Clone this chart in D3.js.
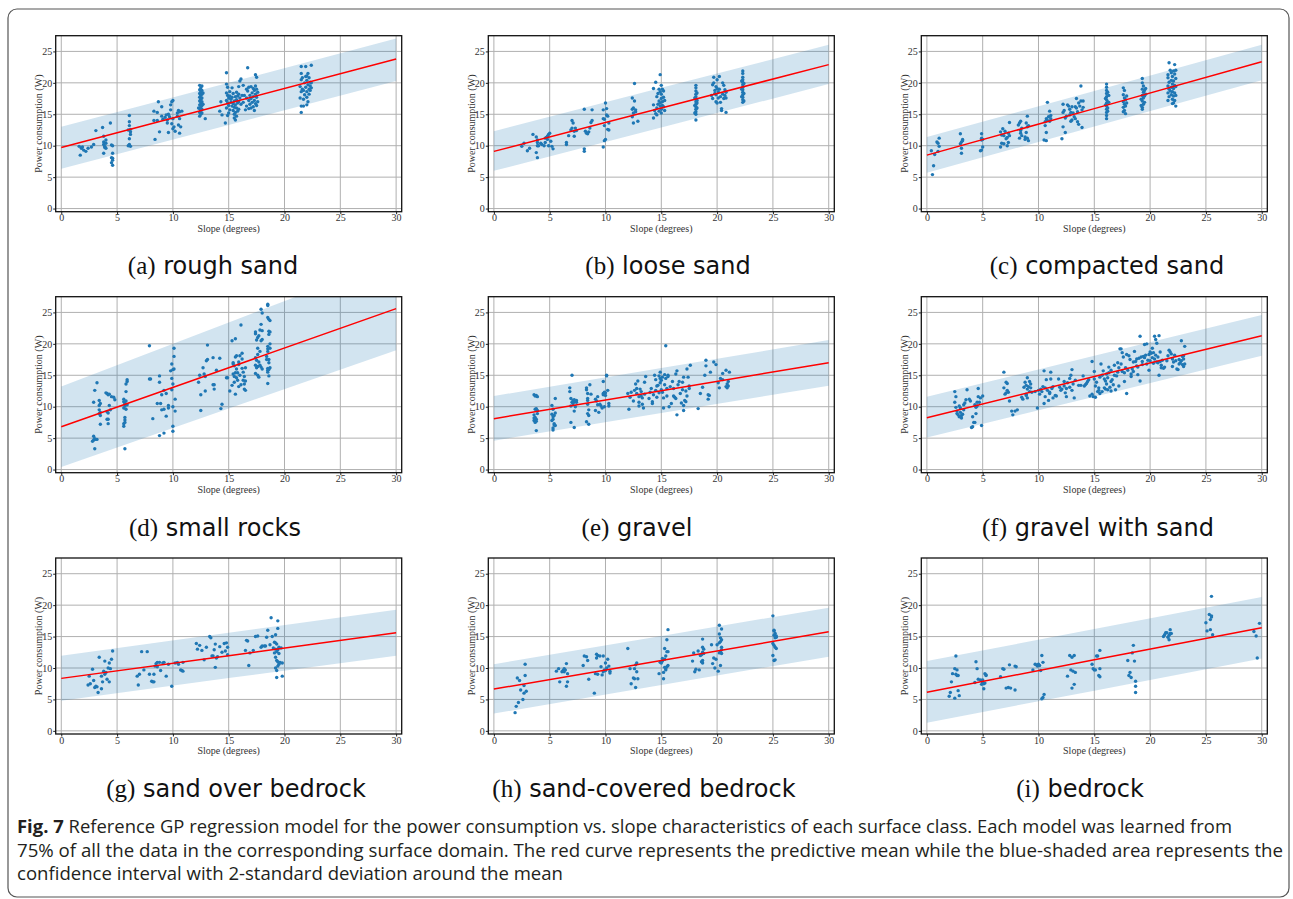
<!DOCTYPE html>
<html>
<head>
<meta charset="utf-8">
<script src="https://cdn.jsdelivr.net/npm/d3@7"></script>
<style>
  body { margin: 0; background: #fff; }
  svg { display: block; }
</style>
</head>
<body>
<svg id="fig" width="1293" height="899"></svg>
<script>
// ---- Axis ticks -------------------------------------------------------
const X_TICKS = [0, 5, 10, 15, 20, 25, 30];
const Y_TICKS = [0, 5, 10, 15, 20, 25];
const X_DOMAIN = [-0.5, 30.5];
const Y_DOMAIN = [-0.5, 27.5];

// Slope positions at which the GP mean and 2-sigma band are given
const gpSlope = [0, 15, 30];

// ---- (a) rough sand ---------------------------------------------------
const roughSandMean = [9.7, 16.75, 23.8];
const roughSandUpper = [13.0, 20.0, 27.05];
const roughSandLower = [6.35, 13.3, 20.3];
const roughSand = [
  [1.6,9.9],[1.7,8.5],[1.8,9.6],[1.9,9.8],[2.0,9.3],[2.2,9.1],[2.4,9.6],[2.7,9.8],[2.9,10.2],[3.1,12.4],
  [3.7,12.9],[3.8,11.5],[3.8,10.6],[3.8,10.2],[3.9,9.9],[3.9,9.7],[4.0,10.9],[4.0,10.4],[3.8,8.8],[4.0,9.6],
  [4.4,13.6],[4.5,10.1],[4.6,10.0],[4.5,8.1],[4.6,8.0],[4.6,7.7],[4.5,7.3],[4.6,6.9],[4.6,8.8],
  [6.1,14.8],[6.1,13.8],[6.1,13.2],[6.0,12.5],[6.2,12.2],[6.2,11.8],[6.1,11.1],[6.0,10.0],[6.1,10.2],[6.2,9.9],[6.2,12.6],
  [8.3,15.5],[8.3,14.0],[8.4,11.0],[8.6,15.3],[8.7,17.0],[8.6,14.0],[8.8,12.2],[9.0,16.2],[9.0,14.7],[9.1,14.2],
  [9.3,14.5],[9.4,14.9],[9.5,14.1],[9.5,13.6],[9.6,15.0],[9.7,14.6],[9.6,12.1],[9.8,16.5],[9.9,17.0],[10.0,17.2],
  [9.9,13.5],[10.0,12.7],[10.1,13.0],[10.2,12.3],[9.8,15.7],[10.0,14.3],
  [10.5,15.6],[10.6,15.4],[10.4,14.7],[10.6,14.3],[10.5,13.3],[10.7,13.0],[10.6,12.0],[10.8,15.5],[10.4,15.2],
  [12.4,19.6],[12.6,19.5],[12.5,19.2],[12.4,18.9],[12.6,18.8],[12.5,18.6],[12.4,18.3],[12.6,18.2],[12.5,18.0],
  [12.4,17.7],[12.6,17.6],[12.5,17.4],[12.4,17.1],[12.6,17.0],[12.5,16.8],[12.4,16.5],[12.6,16.4],[12.5,16.2],
  [12.4,15.9],[12.6,15.8],[12.5,15.6],[12.4,15.3],[12.6,15.2],[12.5,15.0],[12.4,14.7],[12.7,16.6],[12.3,16.0],[12.7,18.4],
  [12.9,14.3],[14.2,15.5],[14.4,14.9],[14.3,17.0],[14.8,21.6],[14.7,13.6],
  [14.8,19.8],[14.9,19.3],[14.8,18.4],[14.9,18.0],[15.0,17.6],[14.8,17.2],[14.9,16.8],[15.0,16.4],[14.8,16.0],
  [15.1,17.9],[15.1,18.6],[15.2,17.4],[15.2,16.9],[15.3,16.3],[15.3,19.2],[15.3,17.7],[15.4,18.3],[15.4,16.7],
  [15.4,15.6],[15.5,17.1],[15.5,16.1],[15.5,15.0],[15.5,14.4],[15.6,17.8],[15.6,16.5],[15.6,15.3],[15.6,14.1],
  [15.7,18.5],[15.7,17.3],[15.7,16.0],[15.7,14.7],[15.8,17.9],[15.8,16.8],[15.8,15.5],[15.9,19.4],[15.9,18.2],
  [15.9,17.0],[15.9,15.8],[16.0,20.3],[16.0,17.6],[16.1,20.6],[16.1,16.6],[16.3,19.6],[16.2,18.0],[15.1,15.7],
  [15.0,15.2],[14.9,14.8],[16.3,16.9],
  [16.6,17.6],[16.6,16.3],[16.7,22.4],[16.7,18.7],[16.8,19.3],[16.8,17.2],[16.8,15.9],[16.9,18.0],[16.9,16.6],
  [17.0,19.4],[17.0,17.5],[17.0,16.0],[17.1,18.4],[17.1,16.9],[17.2,19.1],[17.2,17.8],[17.2,16.2],[17.3,18.8],
  [17.3,17.2],[17.3,15.6],[17.4,21.3],[17.4,19.5],[17.4,18.2],[17.4,16.7],[17.5,20.9],[17.5,19.0],[17.5,17.7],
  [17.5,16.4],[17.6,18.5],[17.6,17.0],[16.6,19.0],[16.5,15.7],[16.4,18.0],
  [21.5,15.3],[21.5,16.3],[21.4,17.6],[21.5,18.6],[21.4,19.4],[21.5,20.5],[21.5,21.5],[21.5,22.6],[21.6,19.0],
  [21.7,17.4],[21.7,16.3],[21.8,20.0],[21.8,18.1],[21.9,22.6],[21.9,21.0],[21.9,19.3],[22.0,17.7],[22.0,16.5],
  [22.0,20.4],[22.0,18.6],[22.1,21.5],[22.1,19.7],[22.1,17.0],[22.2,20.8],[22.2,19.0],[22.2,18.2],[22.3,20.1],
  [22.3,19.5],[22.3,18.8],[22.4,22.8],[22.4,20.0],[22.4,19.2],[21.6,20.8],[21.7,18.8],[22.0,21.1]
];

// ---- (b) loose sand ---------------------------------------------------
const looseSandMean = [9.1, 16.0, 22.9];
const looseSandUpper = [12.3, 19.2, 26.05];
const looseSandLower = [6.0, 12.9, 19.8];
const looseSand = [
  [2.5,9.9],[2.7,10.4],[3.0,9.2],[3.2,9.6],
  [3.5,11.8],[3.8,11.4],[3.9,10.9],[3.9,10.5],[3.9,10.0],[3.8,8.9],[3.9,8.1],[4.0,10.0],
  [4.2,10.4],[4.3,10.2],[4.5,10.0],[4.6,10.5],[4.7,11.3],[4.8,11.5],[4.9,11.8],[5.0,12.0],[4.8,11.0],[4.9,10.0],
  [5.1,10.7],[5.2,9.9],[5.3,9.5],[4.6,11.2],
  [6.5,10.5],[6.5,10.2],[6.7,11.6],[7.0,12.8],[7.0,14.0],[7.1,13.6],[7.2,12.3],[7.2,11.5],[7.3,12.8],[7.4,12.4],[6.9,12.5],
  [8.1,15.8],[8.1,9.5],[8.1,9.1],[8.2,12.3],[8.3,12.0],[8.4,11.9],[8.5,12.2],[8.6,12.8],[8.7,13.7],[8.8,14.0],[8.8,15.7],
  [9.8,15.7],[9.8,14.3],[9.8,9.8],[9.9,14.2],[9.9,10.8],[10.0,16.8],[10.0,11.0],[10.1,15.9],[10.1,14.9],[10.2,14.7],
  [10.2,12.6],[10.3,12.5],[10.3,13.6],[9.9,13.2],
  [12.4,17.6],[12.5,16.0],[12.4,15.8],[12.4,14.6],[12.5,13.6],[12.6,17.1],[12.6,19.9],[12.7,15.7],[12.7,15.4],[12.9,13.9],[12.5,15.2],
  [14.3,19.1],[14.5,20.1],[14.3,16.5],[14.4,15.6],[14.3,14.4],[14.5,15.1],[14.6,16.0],[14.6,17.8],[14.7,18.3],
  [14.8,19.0],[14.8,17.1],[14.8,15.5],[14.9,21.3],[14.9,18.6],[14.9,16.8],[14.9,16.3],[15.0,19.6],[15.0,18.2],
  [15.0,17.5],[15.0,15.8],[15.0,15.2],[15.1,19.0],[15.1,17.0],[15.1,16.4],[15.2,18.7],[15.2,17.7],[15.2,16.2],
  [15.3,17.2],[15.3,15.6],[14.7,16.6],[14.6,14.9],
  [18.1,19.6],[18.1,19.2],[18.1,18.7],[18.1,18.2],[18.1,17.8],[18.1,17.4],[18.1,17.0],[18.1,16.6],[18.1,16.2],
  [18.1,15.8],[18.1,15.4],[18.1,15.0],[18.1,14.1],[18.2,17.2],[18.2,16.8],[18.2,16.0],[18.0,16.4],[18.0,17.6],
  [18.2,18.4],[18.0,15.2],
  [19.5,18.0],[19.6,17.5],[19.6,19.7],[19.7,20.0],[19.7,20.9],[19.8,18.8],[19.8,18.3],[19.9,17.0],[19.9,19.4],
  [20.0,16.8],[20.0,20.5],[20.1,18.6],[20.1,17.6],[20.2,21.0],[20.2,19.0],[20.3,17.8],[20.3,16.9],[20.4,15.9],
  [20.4,15.6],[20.5,18.2],[20.5,20.0],[20.6,19.6],[20.6,17.5],[20.7,18.9],[20.7,18.0],[20.8,15.3],[20.8,17.6],
  [20.8,18.5],[20.0,19.1],[19.9,18.1],
  [22.3,21.9],[22.3,21.5],[22.3,20.9],[22.3,20.5],[22.3,20.1],[22.3,19.7],[22.3,19.3],[22.3,18.9],[22.3,18.5],
  [22.3,18.1],[22.3,17.7],[22.3,17.3],[22.3,16.9],[22.4,19.9],[22.4,18.3],[22.2,17.8],[22.2,19.0],[22.4,17.1],[22.2,20.3]
];

// ---- (c) compacted sand -----------------------------------------------
const compactedSandMean = [8.5, 15.9, 23.35];
const compactedSandUpper = [11.4, 18.7, 26.05];
const compactedSandLower = [5.7, 13.05, 20.4];
const compactedSand = [
  [0.4,9.2],[0.5,5.4],[0.6,6.8],[0.7,8.6],[0.9,10.6],[1.0,9.1],[1.0,10.4],[1.1,11.2],[1.1,9.9],
  [3.0,11.9],[3.0,10.3],[3.1,10.6],[3.1,9.6],[3.1,8.8],[3.2,11.0],[3.2,10.8],
  [4.8,9.2],[4.9,11.9],[4.9,11.2],[4.9,10.9],[5.0,9.8],[4.9,9.3],[5.0,11.0],
  [6.6,12.2],[6.6,9.8],[6.7,11.7],[6.7,10.4],[6.8,12.7],[6.9,10.3],[6.9,11.6],[7.0,12.3],[7.1,11.1],[7.2,10.0],
  [7.2,11.3],[7.3,12.0],[7.3,10.5],[7.4,11.6],[7.4,13.7],
  [8.2,13.3],[8.3,13.6],[8.4,12.4],[8.3,11.2],[8.4,12.0],[8.5,11.6],[8.4,13.9],[8.8,11.0],[8.8,11.4],[8.9,13.6],
  [8.9,12.1],[9.0,14.7],[9.0,13.0],[9.1,10.8],[9.1,13.2],[9.0,11.2],[8.5,12.8],
  [10.5,10.9],[10.6,13.2],[10.6,13.8],[10.7,10.8],[10.7,14.3],[10.7,12.1],[10.8,16.9],[10.8,14.0],[10.9,14.6],
  [11.0,13.9],[11.0,15.5],[11.1,14.8],[11.1,14.3],
  [12.1,11.1],[12.2,13.0],[12.2,15.3],[12.2,16.6],[12.3,15.6],[12.4,12.1],[12.4,14.4],[12.5,14.7],[12.6,16.5],
  [12.7,16.3],[12.8,15.8],[12.8,14.9],[12.9,13.9],[12.9,15.3],[13.0,16.2],[13.0,14.1],[13.1,15.2],[13.2,14.6],
  [13.3,16.2],[13.3,14.3],[13.4,17.5],[13.4,16.0],[13.5,13.8],[13.5,15.4],[13.6,16.8],[13.6,13.4],[13.7,16.3],
  [13.8,19.5],[13.8,17.1],[13.9,12.9],[13.9,15.7],[14.0,17.1],[14.0,16.1],
  [16.1,19.8],[16.1,19.3],[16.1,18.8],[16.1,18.3],[16.1,17.8],[16.1,17.3],[16.1,16.8],[16.1,16.3],[16.1,15.8],
  [16.1,15.3],[16.1,14.8],[16.1,14.3],[16.2,18.5],[16.2,17.0],[16.2,16.0],[16.2,15.5],[16.0,17.5],[16.0,16.5],
  [16.3,16.9],[16.3,18.0],
  [17.6,19.2],[17.7,18.8],[17.6,18.1],[17.7,17.6],[17.6,17.0],[17.7,16.6],[17.6,16.1],[17.7,15.6],[17.8,15.1],
  [17.8,17.3],[17.8,16.3],[17.9,17.9],[17.9,16.8],[17.6,15.4],
  [19.3,20.7],[19.3,20.0],[19.4,19.5],[19.3,19.0],[19.4,18.5],[19.3,18.0],[19.4,17.6],[19.3,17.1],[19.4,16.6],
  [19.3,16.1],[19.3,15.8],[19.5,18.8],[19.5,17.9],[19.5,16.9],[19.6,19.1],[19.6,18.2],[19.2,17.4],[19.2,16.4],
  [21.7,23.2],[21.8,22.0],[21.6,21.3],[21.6,20.8],[21.7,20.1],[21.6,19.5],[21.7,19.0],[21.6,18.4],[21.7,17.8],
  [21.6,17.2],[21.9,20.4],[21.9,19.3],[21.9,18.1],[22.0,21.0],[22.0,19.8],[22.0,18.6],[22.0,17.4],[22.1,20.3],
  [22.1,19.1],[22.1,17.9],[22.1,16.8],[22.2,22.9],[22.2,21.4],[22.2,19.6],[22.2,18.4],[22.2,17.2],[22.3,22.0],
  [22.3,20.7],[22.3,19.4],[22.3,18.0],[22.3,16.3],[21.8,18.7],[22.0,16.7],[21.9,21.6],[22.1,21.9]
];

// ---- (d) small rocks --------------------------------------------------
const smallRocksMean = [6.8, 16.2, 25.6];
const smallRocksUpper = [13.2, 23.4, 33.6];
const smallRocksLower = [0.4, 9.7, 19.0];
const smallRocks = [
  [2.8,4.5],[2.9,4.7],[2.9,5.3],[3.0,4.9],[3.0,3.3],[3.1,4.8],[3.2,4.8],[2.9,10.7],[3.0,12.6],[3.2,13.8],
  [3.4,11.0],[3.4,10.2],[3.4,9.5],[3.5,9.1],[3.5,8.6],[3.5,7.2],[3.4,8.9],[3.5,10.5],
  [4.0,12.2],[4.1,12.1],[4.2,11.9],[4.3,12.0],[4.1,9.2],[4.2,8.0],[4.2,7.3],[4.3,10.2],[4.2,9.0],[4.4,9.5],[4.1,8.0],
  [4.5,11.6],[4.7,11.5],[4.8,11.1],
  [5.6,11.2],[5.6,10.8],[5.7,10.5],[5.7,10.1],[5.6,9.8],[5.7,8.3],[5.7,7.9],[5.6,7.3],[5.6,6.9],[5.7,3.3],
  [5.8,12.4],[5.8,13.6],[5.9,14.0],[5.9,14.3],[5.8,9.6],[5.8,10.9],[5.7,7.5],[5.9,10.3],
  [7.9,19.7],[7.9,14.4],[8.0,14.4],[8.2,8.1],
  [8.6,10.5],[8.8,14.9],[8.8,13.9],[8.8,5.4],[8.9,10.5],[9.0,11.9],[9.0,9.5],[9.2,9.6],[9.2,5.8],[9.4,8.5],[9.4,12.1],[9.2,12.6],
  [9.6,10.2],[9.6,9.8],[9.8,15.7],[9.9,16.8],[9.9,14.5],[9.9,12.7],[10.0,13.6],[10.0,6.9],[10.0,6.1],[10.1,19.3],
  [10.1,18.0],[10.1,16.0],[10.0,15.9],[10.2,11.2],[10.2,9.3],[10.0,10.0],
  [12.3,13.9],[12.4,15.0],[12.5,11.9],[12.5,9.4],[12.7,16.2],[12.8,15.2],[12.9,14.8],[12.9,12.5],[13.0,17.3],[13.1,19.8],[13.1,17.5],
  [13.6,17.8],[13.6,13.5],[13.7,12.8],[13.7,13.5],[13.9,15.8],[14.2,17.7],[14.3,9.7],[14.4,10.4],
  [14.8,14.6],[14.9,14.6],[15.1,12.5],[15.3,13.4],[15.3,20.5],[15.4,17.0],[15.4,16.8],[15.4,15.2],[15.5,14.8],
  [15.5,13.9],[15.6,20.8],[15.6,17.9],[15.6,12.0],[15.5,16.5],[15.6,15.4],
  [15.7,18.1],[15.7,16.0],[15.7,14.6],[15.8,15.4],[15.8,14.2],[15.9,16.7],[15.9,17.1],[15.9,13.2],[16.0,18.1],
  [16.1,23.0],[16.0,15.0],[16.1,13.5],[16.2,18.5],[16.2,17.6],[16.2,16.1],[16.3,15.5],[16.3,14.2],[16.4,14.8],
  [16.4,13.6],[16.4,12.8],[16.5,14.1],[16.5,12.6],[16.5,16.2],
  [17.4,21.9],[17.4,21.6],[17.4,17.8],[17.4,16.6],[17.4,15.3],[17.5,20.6],[17.5,16.2],[17.6,19.3],[17.6,18.3],
  [17.6,16.4],[17.6,15.0],[17.7,21.3],[17.7,17.1],[17.7,14.7],[17.8,22.2],[17.8,16.6],[17.9,25.5],[17.9,23.1],
  [17.9,20.5],[17.9,16.3],[18.0,24.9],[18.0,22.1],[18.0,20.7],[18.0,16.0],[17.5,17.4],[17.8,18.8],[17.6,21.0],
  [18.5,26.3],[18.5,26.1],[18.5,24.2],[18.6,23.9],[18.6,22.0],[18.6,21.5],[18.5,19.6],[18.5,19.2],[18.5,18.8],
  [18.6,17.5],[18.6,17.0],[18.5,16.1],[18.5,15.8],[18.5,15.5],[18.6,14.9],[18.5,13.7],[18.7,23.7],[18.7,21.9],
  [18.7,19.3],[18.7,16.2],[18.6,15.9],[18.4,17.5],[18.4,18.0],[18.7,20.0]
];

// ---- (e) gravel -------------------------------------------------------
const gravelMean = [8.1, 12.55, 17.0];
const gravelUpper = [11.7, 16.15, 20.6];
const gravelLower = [4.6, 9.0, 13.35];
const gravel = [
  [3.6,11.9],[3.7,11.7],[3.8,11.8],[3.9,11.6],[3.7,9.6],[3.8,9.7],[3.6,8.7],[3.7,8.3],[3.8,8.0],[3.6,7.8],
  [3.7,7.5],[3.8,6.2],[3.9,8.9],[3.9,9.4],[3.6,8.2],[3.8,7.7],
  [5.2,10.2],[5.3,9.6],[5.2,8.8],[5.3,8.4],[5.3,8.0],[5.2,7.8],[5.4,7.3],[5.3,6.6],[5.3,6.3],[5.5,11.3],[5.5,9.0],
  [5.5,7.0],[5.4,8.6],[5.4,7.1],
  [6.8,13.0],[6.8,12.4],[6.9,11.3],[6.9,10.1],[7.0,15.0],[7.0,10.7],[7.1,11.0],[7.1,10.5],[7.2,9.3],[7.2,11.1],
  [7.3,10.8],[7.3,10.0],[7.4,10.7],[6.9,7.5],[7.2,6.7],[7.4,11.0],
  [8.3,13.0],[8.3,12.7],[8.4,12.1],[8.4,11.3],[8.4,11.0],[8.4,10.4],[8.5,9.5],[8.4,8.9],[8.5,8.6],[8.3,7.6],
  [8.5,7.2],[8.6,13.5],[8.7,12.0],
  [9.1,11.2],[9.1,9.4],[9.2,10.9],[9.3,10.3],[9.3,11.6],[9.4,9.1],[9.5,10.4],[9.6,10.1],[9.7,9.8],[9.8,11.9],
  [9.8,12.1],[9.8,14.0],[9.9,12.3],[9.9,10.0],[10.0,11.8],[10.1,15.0],[10.1,14.9],[10.2,12.6],[10.3,10.5],
  [10.3,10.1],[10.0,12.2],
  [12.0,12.1],[12.1,9.6],[12.2,11.5],[12.3,12.3],[12.5,10.9],[12.6,12.6],[12.7,13.6],[12.8,12.1],[12.9,14.1],
  [13.0,11.6],[13.0,10.7],[13.0,10.1],[13.1,12.8],[13.2,11.7],[13.2,12.4],[13.3,11.4],[13.3,10.4],[13.4,9.8],
  [13.5,13.9],[13.6,14.8],[13.5,12.0],[12.8,12.9],
  [13.9,11.3],[14.0,12.3],[14.1,12.9],[14.2,10.8],[14.2,10.5],[14.3,11.9],[14.4,15.0],[14.5,14.3],[14.5,12.6],
  [14.6,11.5],[14.7,13.4],[14.8,14.9],[14.8,12.2],[14.9,13.8],[14.9,15.5],[15.0,14.2],[15.0,12.7],[15.1,12.3],
  [15.2,9.8],[15.2,11.4],[15.3,15.1],[15.3,13.5],[15.4,19.7],[15.4,14.5],[15.5,12.9],[15.6,15.0],[15.6,14.8],
  [15.7,10.0],[15.8,13.2],[15.9,10.5],[16.0,14.0],[16.1,11.7],[16.1,12.9],[16.2,11.5],[16.3,15.2],[16.3,11.3],
  [16.4,8.7],[16.4,15.7],[16.5,13.5],[15.1,14.7],[14.9,14.5],[15.5,11.7],[14.6,13.3],
  [16.6,14.0],[16.7,12.1],[16.8,10.6],[16.9,12.7],[17.0,10.2],[17.0,9.4],[17.0,14.7],[17.1,11.0],[17.2,12.5],
  [17.2,10.8],[17.3,16.0],[17.4,14.7],[17.5,12.9],[17.5,13.3],[17.6,16.6],[17.3,11.7],[16.9,13.9],
  [18.3,9.7],[18.5,12.1],[18.7,13.1],[18.9,15.0],[19.0,17.4],[19.0,16.5],[19.2,11.9],[19.2,11.2],[19.3,11.8],
  [19.4,15.5],[19.7,17.1],[19.9,16.7],[20.1,13.8],[20.2,13.0],[20.3,14.5],[20.5,15.3],[20.8,15.8],[20.8,13.2],
  [20.9,13.6],[20.9,13.0],[21.0,14.0],[21.1,15.5],[20.5,14.3],[21.0,13.3]
];

// ---- (f) gravel with sand ---------------------------------------------
const gravelSandMean = [8.25, 14.8, 21.3];
const gravelSandUpper = [11.6, 18.1, 24.6];
const gravelSandLower = [5.1, 11.6, 18.1];
const gravelSand = [
  [2.5,12.4],[2.6,11.6],[2.5,10.7],[2.6,9.9],[2.7,9.3],[2.7,8.9],[2.8,8.7],[2.9,8.4],[3.0,9.8],[3.0,9.1],
  [3.1,8.6],[3.1,8.2],[3.2,8.8],[3.3,9.5],[3.3,10.3],[3.4,10.6],[3.5,11.1],[3.6,12.7],[2.9,10.1],
  [3.8,11.2],[3.9,10.9],[4.0,6.7],[4.1,6.8],[4.1,8.4],[4.2,7.5],[4.3,10.3],[4.4,9.9],[4.4,8.9],[4.5,10.7],
  [4.6,11.6],[4.6,12.9],[4.7,10.7],[4.8,11.4],[4.9,7.0],[5.0,11.7],[4.5,10.1],[4.3,7.5],
  [6.9,15.5],[6.9,13.0],[7.0,12.0],[7.1,13.9],[7.2,13.7],[7.2,12.6],[7.3,12.3],[7.4,10.9],[7.6,9.3],[7.7,8.7],
  [7.9,9.3],[8.1,9.5],[7.1,12.2],
  [8.5,11.5],[8.6,11.2],[8.7,13.1],[8.8,13.9],[8.9,12.0],[8.9,13.4],[9.0,14.6],[9.0,11.4],[9.0,12.8],[9.1,13.2],
  [9.2,14.0],[9.2,12.4],[9.3,13.0],[9.4,12.3],[9.3,13.6],[8.9,11.8],
  [9.7,12.4],[9.9,9.8],[10.0,12.6],[10.1,12.0],[10.2,12.8],[10.3,12.4],[10.4,13.2],[10.5,15.7],[10.5,10.5],
  [10.6,11.6],[10.7,14.3],[10.8,12.6],[10.9,11.0],[11.0,12.1],[11.0,12.3],[11.1,15.5],[11.1,14.4],[11.2,12.9],
  [11.3,11.4],[10.6,13.0],[11.3,13.2],
  [11.5,11.8],[11.6,11.7],[11.8,14.4],[11.9,13.1],[12.0,12.6],[12.1,12.8],[12.3,14.0],[12.3,13.3],[12.4,12.2],
  [12.5,11.6],[12.6,13.8],[12.8,14.5],[12.9,15.0],[13.0,15.9],[13.0,12.6],[13.1,13.6],[13.2,11.4],[13.3,14.2],
  [12.5,12.9],[12.8,13.1],
  [13.6,13.4],[13.8,13.4],[14.0,14.9],[14.1,13.3],[14.2,13.5],[14.4,14.0],[14.5,14.3],[14.6,11.7],[14.8,17.2],
  [14.8,12.0],[14.9,11.6],[15.0,15.6],[15.0,14.4],[15.1,11.5],[15.1,13.3],[15.2,13.9],[15.3,12.4],[15.4,12.6],
  [15.5,14.7],[15.5,12.1],[14.3,13.7],[15.4,13.0],
  [15.6,16.8],[15.7,15.0],[15.7,12.4],[15.8,15.7],[15.9,14.4],[16.0,12.8],[16.0,14.1],[16.1,13.6],[16.2,12.7],
  [16.2,14.6],[16.3,16.3],[16.3,15.4],[16.4,13.1],[16.5,12.5],[16.5,15.8],[16.6,14.3],[16.7,13.5],[16.8,15.0],
  [16.8,16.6],[16.9,12.7],[17.0,14.9],[16.1,15.2],[16.5,14.0],[15.9,13.0],
  [17.1,17.0],[17.1,15.5],[17.2,16.2],[17.2,13.3],[17.3,19.2],[17.4,19.2],[17.4,16.8],[17.5,18.6],[17.5,15.6],
  [17.6,17.9],[17.7,15.4],[17.7,14.0],[17.8,16.2],[17.9,12.1],[18.0,15.8],[18.1,18.1],[18.2,17.5],[18.3,15.2],
  [18.4,16.0],[18.5,15.6],[18.5,17.1],[17.9,18.3],[18.3,14.8],
  [18.6,18.8],[18.7,17.2],[18.8,17.6],[18.8,16.5],[18.9,15.1],[19.0,17.7],[19.1,21.2],[19.1,14.1],[19.2,17.9],
  [19.3,16.7],[19.4,18.0],[19.5,17.8],[19.5,19.9],[19.6,18.2],[19.7,20.0],[19.7,16.8],[19.8,17.4],[19.9,18.3],
  [19.9,15.8],[20.0,17.3],[20.0,18.7],[19.3,17.2],[18.9,16.3],
  [20.1,18.5],[20.2,17.8],[20.2,19.3],[20.3,18.6],[20.4,21.2],[20.4,17.6],[20.5,20.7],[20.5,18.2],[20.6,20.1],
  [20.6,17.1],[20.7,17.9],[20.8,21.3],[20.8,15.0],[20.9,18.7],[20.9,17.2],[21.0,16.6],[21.0,16.2],[21.1,17.4],
  [21.2,16.1],[21.3,16.3],[20.3,16.9],[20.7,17.0],
  [21.5,17.3],[21.6,18.1],[21.7,19.0],[21.8,18.7],[21.9,18.4],[22.0,17.6],[22.0,16.4],[22.1,17.1],[22.3,17.3],
  [22.4,16.0],[22.5,15.9],[22.6,17.5],[22.7,17.0],[22.8,20.5],[22.8,17.3],[22.9,18.0],[22.9,16.7],[23.0,16.4],
  [23.0,17.6],[23.1,19.6],[23.1,16.8],[23.0,18.1],[22.2,18.2],[22.6,16.8]
];

// ---- (g) sand over bedrock --------------------------------------------
const sandOverBedrockMean = [8.35, 11.95, 15.6];
const sandOverBedrockUpper = [11.95, 15.6, 19.25];
const sandOverBedrockLower = [4.8, 8.4, 11.95];
const sandOverBedrock = [
  [2.4,7.3],[2.5,8.7],[2.6,7.5],[2.8,9.8],[2.9,8.0],[3.0,6.9],[3.1,7.1],[3.2,7.0],[3.3,6.1],[3.4,11.7],
  [3.6,8.7],[3.6,6.7],[3.7,7.8],[3.8,9.5],[3.9,11.1],[3.9,9.0],[4.1,8.2],[4.2,10.0],[4.3,10.8],[4.3,7.8],
  [4.4,9.9],[4.5,11.4],[4.6,12.7],[4.0,9.3],
  [6.8,8.7],[6.9,7.3],[7.0,9.0],[7.2,12.6],[7.4,9.7],[7.7,12.6],[7.9,9.0],[8.1,7.9],[8.2,7.8],[8.3,9.0],[8.3,7.8],
  [8.4,10.3],[8.5,10.7],[8.6,10.9],[8.8,10.9],[8.9,9.6],[9.1,10.8],[9.4,8.7],[9.6,10.6],[9.9,7.1],[10.2,10.8],
  [10.4,10.9],[10.5,10.6],[10.7,9.7],[10.8,9.6],[10.9,9.5],[10.9,10.9],[8.6,10.2],[9.2,10.9],
  [12.1,13.9],[12.2,13.0],[12.4,13.6],[12.6,12.8],[12.8,11.3],[13.0,13.3],[13.3,15.0],[13.4,14.8],[13.6,11.9],
  [13.7,12.9],[13.8,13.8],[13.8,10.1],[13.9,11.6],[14.0,11.8],[14.2,13.4],[14.4,12.5],[14.6,13.9],[14.7,12.7],
  [14.8,14.0],[14.9,13.3],[14.9,12.1],[13.5,11.9],
  [16.5,12.8],[16.6,14.4],[16.7,14.3],[16.8,10.4],[16.9,12.4],[17.2,12.8],[17.4,15.0],[17.6,15.1],[17.9,13.3],
  [18.0,13.5],[18.2,13.5],[18.3,13.5],[18.4,14.9],[18.5,16.0],
  [18.8,18.0],[18.7,13.7],[18.9,15.0],[19.0,13.2],[19.1,14.1],[19.1,12.4],[19.2,15.3],[19.2,13.0],[19.2,11.7],
  [19.2,10.0],[19.3,9.6],[19.3,8.5],[19.3,12.6],[19.3,11.2],[19.3,13.8],[19.4,17.5],[19.4,16.3],[19.4,12.9],
  [19.4,11.0],[19.5,13.3],[19.5,12.3],[19.5,10.6],[19.6,10.9],[19.7,13.2],[19.8,10.8],[19.8,8.7],[19.2,14.0],[19.4,10.3]
];

// ---- (h) sand-covered bedrock -----------------------------------------
const sandCoveredMean = [6.65, 11.2, 15.75];
const sandCoveredUpper = [10.6, 15.1, 19.6];
const sandCoveredLower = [2.75, 7.3, 11.8];
const sandCovered = [
  [1.9,2.9],[2.0,3.9],[2.1,8.4],[2.2,4.5],[2.3,8.0],[2.4,6.5],[2.6,5.0],[2.7,6.0],[2.7,7.2],[2.8,8.8],[2.8,10.6],[2.9,6.3],
  [5.6,9.5],[5.8,9.9],[5.9,7.8],[6.1,9.4],[6.2,9.6],[6.3,9.9],[6.4,9.7],[6.5,10.7],[6.5,7.1],[6.6,7.8],[6.6,9.1],[6.3,9.4],
  [8.0,10.4],[8.1,11.9],[8.3,11.8],[8.4,11.2],[8.5,8.2],[9.0,6.0],[9.1,9.1],[9.2,11.6],[9.2,12.2],[9.3,9.0],
  [9.3,12.0],[9.5,11.9],[9.6,10.2],[9.7,8.9],[9.8,9.4],[9.8,11.9],[10.0,10.8],[10.0,9.6],[10.1,10.0],[10.2,11.4],
  [10.3,10.3],[10.4,9.5],[10.4,9.2],[9.9,9.7],
  [12.0,13.1],[12.2,9.9],[12.3,7.5],[12.5,8.4],[12.6,8.3],[12.6,9.9],[12.7,6.9],[12.7,10.5],[12.8,10.8],[12.8,9.4],[12.9,8.3],
  [14.8,9.1],[14.9,10.9],[15.0,10.8],[15.1,11.1],[15.2,9.3],[15.2,8.3],[15.3,13.1],[15.3,11.4],[15.4,9.7],
  [15.4,9.9],[15.4,11.9],[15.5,12.6],[15.5,10.2],[15.5,14.5],[15.6,16.1],[15.6,12.6],[15.6,10.4],[15.3,10.1],[15.1,11.5],
  [17.8,11.1],[17.9,12.4],[18.0,9.4],[18.1,9.8],[18.3,12.7],[18.4,9.7],[18.5,12.0],[18.6,12.1],[18.7,12.5],
  [18.7,13.3],[18.7,14.6],[18.7,11.2],[18.7,10.8],[18.8,12.3],[18.8,13.0],[18.6,11.0],
  [19.5,13.7],[19.6,10.7],[19.7,11.6],[19.8,10.0],[19.9,11.4],[20.0,13.7],[20.1,9.5],[20.2,16.8],[20.2,15.4],
  [20.2,12.4],[20.3,14.8],[20.3,14.2],[20.3,12.6],[20.3,10.4],[20.4,16.2],[20.4,14.5],[20.4,13.3],[20.4,12.9],
  [20.4,12.3],[20.2,14.0],
  [25.0,18.3],[25.0,12.0],[25.1,15.9],[25.1,15.2],[25.1,13.6],[25.1,11.2],[25.2,15.5],[25.2,14.8],[25.2,13.3],
  [25.2,11.3],[25.3,15.1],[25.3,14.9],[25.3,13.1],[25.1,16.0],[25.0,13.9]
];

// ---- (i) bedrock ------------------------------------------------------
const bedrockMean = [6.15, 11.3, 16.4];
const bedrockUpper = [11.1, 16.2, 21.3];
const bedrockLower = [1.3, 6.4, 11.5];
const bedrock = [
  [2.0,5.5],[2.1,6.1],[2.2,7.8],[2.3,9.1],[2.5,5.2],[2.5,9.9],[2.6,11.9],[2.6,9.0],[2.7,8.8],[2.7,9.7],[2.8,6.4],[2.8,8.8],[2.9,5.6],
  [4.3,7.7],[4.4,11.0],[4.5,9.9],[4.6,8.2],[4.8,8.1],[4.9,7.4],[5.0,8.1],[5.0,7.7],[5.1,7.5],[5.1,6.7],[5.2,9.1],
  [5.2,7.6],[5.3,8.9],[5.3,8.8],
  [6.6,8.6],[6.8,9.9],[6.9,9.8],[7.1,6.8],[7.3,6.9],[7.4,10.5],[7.5,6.8],[7.9,10.3],[7.9,6.5],[8.0,10.2],
  [9.5,9.7],[9.7,10.6],[9.8,10.5],[9.9,10.3],[10.0,10.6],[10.1,10.4],[10.2,9.6],[10.3,12.0],[10.3,5.1],[10.4,10.9],[10.4,5.3],[10.5,5.8],
  [12.6,8.7],[12.8,12.0],[12.9,9.7],[13.0,11.7],[13.0,6.8],[13.1,9.5],[13.2,12.0],[13.2,7.4],[13.3,9.3],
  [14.8,10.6],[14.9,9.9],[15.0,9.7],[15.1,9.7],[15.2,11.9],[15.3,11.9],[15.4,8.8],[15.5,12.8],[15.5,9.9],[15.5,8.6],
  [18.0,11.2],[18.1,8.8],[18.2,9.3],[18.3,8.5],[18.4,12.4],[18.5,13.6],[18.6,11.1],[18.7,7.9],[18.7,7.1],[18.7,6.1],
  [21.2,15.0],[21.3,15.3],[21.4,15.6],[21.5,15.6],[21.6,14.9],[21.7,14.5],[21.7,15.2],[21.8,16.1],[21.8,15.5],[21.9,15.5],
  [25.0,17.2],[25.1,15.9],[25.3,18.5],[25.4,16.1],[25.4,17.7],[25.5,21.4],[25.5,18.3],[25.6,15.3],[25.5,18.1],
  [29.3,15.8],[29.5,15.1],[29.6,11.6],[29.8,17.1]
];

// ---- Panel list (order: row by row) -----------------------------------
const panels = [
  { tag: "(a)", name: "rough sand",           pts: roughSand,       mean: roughSandMean,       upper: roughSandUpper,       lower: roughSandLower },
  { tag: "(b)", name: "loose sand",           pts: looseSand,       mean: looseSandMean,       upper: looseSandUpper,       lower: looseSandLower },
  { tag: "(c)", name: "compacted sand",       pts: compactedSand,   mean: compactedSandMean,   upper: compactedSandUpper,   lower: compactedSandLower },
  { tag: "(d)", name: "small rocks",          pts: smallRocks,      mean: smallRocksMean,      upper: smallRocksUpper,      lower: smallRocksLower },
  { tag: "(e)", name: "gravel",               pts: gravel,          mean: gravelMean,          upper: gravelUpper,          lower: gravelLower },
  { tag: "(f)", name: "gravel with sand",     pts: gravelSand,      mean: gravelSandMean,      upper: gravelSandUpper,      lower: gravelSandLower },
  { tag: "(g)", name: "sand over bedrock",    pts: sandOverBedrock, mean: sandOverBedrockMean, upper: sandOverBedrockUpper, lower: sandOverBedrockLower },
  { tag: "(h)", name: "sand-covered bedrock", pts: sandCovered,     mean: sandCoveredMean,     upper: sandCoveredUpper,     lower: sandCoveredLower },
  { tag: "(i)", name: "bedrock",              pts: bedrock,         mean: bedrockMean,         upper: bedrockUpper,         lower: bedrockLower }
];

const captionLines = [
  ["Fig. 7", "Reference GP regression model for the power consumption vs. slope characteristics of each surface class. Each model was learned from"],
  ["", "75% of all the data in the corresponding surface domain. The red curve represents the predictive mean while the blue-shaded area represents the"],
  ["", "confidence interval with 2-standard deviation around the mean"]
];

// ---- Layout -----------------------------------------------------------
const colLeft = [55.7, 488.3, 921.3];
const rowTop = [35.7, 296.7, 558];
const W = 346, H = 176;
const subCenter = [213, 668, 1107, 215, 637, 1098, 236, 644, 1080];
const subBaseline = [274, 536, 797];

const svg = d3.select("#fig");
svg.append("rect")
  .attr("x", 8).attr("y", 9).attr("width", 1281).attr("height", 888).attr("rx", 9)
  .attr("fill", "none").attr("stroke", "#555").attr("stroke-width", 1.2);

const serif = "'Liberation Serif', 'DejaVu Serif', serif";

panels.forEach((p, i) => {
  const c = i % 3, r = Math.floor(i / 3);
  const g = svg.append("g").attr("transform", `translate(${colLeft[c]},${rowTop[r]})`);
  const x = d3.scaleLinear().domain(X_DOMAIN).range([0, W]);
  const y = d3.scaleLinear().domain(Y_DOMAIN).range([H, 0]);

  const clipId = `clip${i}`;
  g.append("clipPath").attr("id", clipId).append("rect").attr("width", W).attr("height", H);

  // grid
  g.append("g").selectAll("line").data(X_TICKS).join("line")
    .attr("x1", d => x(d)).attr("x2", d => x(d)).attr("y1", 0).attr("y2", H)
    .attr("stroke", "#b0b0b0").attr("stroke-width", 1);
  g.append("g").selectAll("line").data(Y_TICKS).join("line")
    .attr("y1", d => y(d)).attr("y2", d => y(d)).attr("x1", 0).attr("x2", W)
    .attr("stroke", "#b0b0b0").attr("stroke-width", 1);

  const gp = gpSlope.map((s, k) => ({ s, m: p.mean[k], hi: p.upper[k], lo: p.lower[k] }));
  const plot = g.append("g").attr("clip-path", `url(#${clipId})`);

  plot.append("path").datum(gp)
    .attr("d", d3.area().x(d => x(d.s)).y0(d => y(d.lo)).y1(d => y(d.hi)))
    .attr("fill", "#1f77b4").attr("fill-opacity", 0.2);

  plot.append("g").selectAll("circle").data(p.pts).join("circle")
    .attr("cx", d => x(d[0])).attr("cy", d => y(d[1])).attr("r", 1.7)
    .attr("fill", "#1f77b4");

  plot.append("path").datum(gp)
    .attr("d", d3.line().x(d => x(d.s)).y(d => y(d.m)))
    .attr("fill", "none").attr("stroke", "#ff0000").attr("stroke-width", 1.5);

  // axes
  const ax = g.append("g").attr("transform", `translate(0,${H})`)
    .call(d3.axisBottom(x).tickValues(X_TICKS).tickSize(2.5).tickPadding(0).tickSizeOuter(0));
  const ay = g.append("g")
    .call(d3.axisLeft(y).tickValues(Y_TICKS).tickSize(2.5).tickPadding(1).tickSizeOuter(0));
  [ax, ay].forEach(a => {
    a.select(".domain").remove();
    a.selectAll("line").attr("stroke", "#222");
    a.selectAll("text").attr("font-family", serif).attr("font-size", 10).attr("fill", "#333");
  });

  g.append("rect").attr("width", W).attr("height", H)
    .attr("fill", "none").attr("stroke", "#111").attr("stroke-width", 1.3);

  g.append("text").attr("x", W / 2).attr("y", H + 20)
    .attr("text-anchor", "middle").attr("font-family", serif).attr("font-size", 10).attr("fill", "#333")
    .text("Slope (degrees)");
  g.append("text").attr("transform", `translate(-13.5,${H / 2}) rotate(-90)`)
    .attr("text-anchor", "middle").attr("font-family", serif).attr("font-size", 10).attr("fill", "#333")
    .text("Power consumption (W)");

  // sub-caption
  const t = svg.append("text").attr("x", subCenter[i]).attr("y", subBaseline[r])
    .attr("text-anchor", "middle").attr("fill", "#111");
  t.append("tspan").attr("font-family", serif).attr("font-size", 25).text(p.tag);
  t.append("tspan").attr("font-family", "'DejaVu Sans', sans-serif").attr("font-size", 24).text(" " + p.name);
});

// figure caption
const capFont = "'Open Sans', 'Noto Sans', sans-serif";
const capBase = [833, 856.5, 879.5];
const capLen = [1215, 1266, 546];
captionLines.forEach((ln, k) => {
  const t = svg.append("text").attr("x", 17).attr("y", capBase[k])
    .attr("font-family", capFont).attr("font-size", 18).attr("fill", "#231f20")
    .attr("textLength", capLen[k]).attr("lengthAdjust", "spacingAndGlyphs");
  if (ln[0]) t.append("tspan").attr("font-weight", "bold").text(ln[0] + "  ");
  t.append("tspan").text(ln[1]);
});
</script>
</body>
</html>
